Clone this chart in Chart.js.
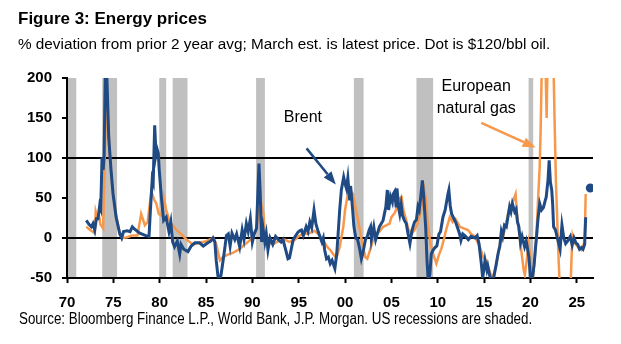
<!DOCTYPE html>
<html lang="en">
<head>
<meta charset="UTF-8">
<title>Energy prices</title>
<style>
  body { margin: 0; background: #fff; }
  .wrap { position: relative; width: 621px; height: 344px; font-family: Arial, "Liberation Sans", sans-serif; color: #000; }
  .title { position: absolute; left: 18px; top: 9.6px; font-size: 17px; line-height: 17px; font-weight: bold; white-space: nowrap; }
  .subtitle { position: absolute; left: 18px; top: 35.6px; font-size: 15.3px; line-height: 15px; white-space: nowrap; }
  /* condensed footnote */
  .source { position: absolute; left: 19px; top: 310.8px; font-size: 16px; line-height: 16px; white-space: nowrap;
            transform: scaleX(0.835); transform-origin: left top; }
  canvas { position: absolute; left: 0; top: 0; }
</style>
<script src="https://cdn.jsdelivr.net/npm/chart.js"></script>
</head>
<body>
<div class="wrap">
  <canvas id="energy" width="621" height="344"></canvas>
  <div class="title">Figure 3: Energy prices</div>
  <div class="subtitle">% deviation from prior 2 year avg; March est. is latest price. Dot is $120/bbl oil.</div>
  <div class="source">Source: Bloomberg Finance L.P., World Bank, J.P. Morgan. US recessions are shaded.</div>
</div>

<script>
// % deviation from prior 2 year average
const brentYears = [
  1972.08, 1972.37, 1972.63, 1972.8, 1972.99, 1973.17, 1973.35, 1973.53, 1973.64, 1973.78, 1973.9, 1974.0,
  1974.14, 1974.28, 1974.5, 1974.75, 1974.97, 1975.3, 1975.7, 1975.9, 1976.1, 1976.5, 1976.8, 1977.05,
  1977.3, 1977.85, 1978.5, 1978.85, 1979.0, 1979.2, 1979.3, 1979.46, 1979.6, 1979.7, 1979.85, 1979.95,
  1980.18, 1980.43, 1980.7, 1981.0, 1981.2, 1981.4, 1981.6, 1981.9, 1982.16, 1982.3, 1982.6, 1983.05,
  1983.4, 1983.8, 1984.3, 1984.7, 1985.2, 1985.5, 1985.75, 1985.95, 1986.1, 1986.3, 1986.5, 1986.76,
  1987.0, 1987.2, 1987.4, 1987.6, 1987.8, 1988.1, 1988.3, 1988.63, 1988.9, 1989.1, 1989.35, 1989.55,
  1989.78, 1990.0, 1990.2, 1990.45, 1990.71, 1990.85, 1991.0, 1991.15, 1991.35, 1991.5, 1991.68, 1991.9,
  1992.2, 1992.5, 1992.8, 1993.1, 1993.3, 1993.6, 1993.84, 1994.0, 1994.4, 1994.9, 1995.1, 1995.3,
  1995.5, 1995.8, 1996.0, 1996.2, 1996.4, 1996.65, 1996.85, 1997.1, 1997.5, 1997.65, 1997.8, 1998.0,
  1998.2, 1998.4, 1998.6, 1998.9, 1999.1, 1999.25, 1999.42, 1999.6, 1999.85, 2000.0, 2000.15, 2000.3,
  2000.5, 2000.6, 2000.8, 2000.95, 2001.15, 2001.35, 2001.55, 2001.76, 2001.9, 2002.2, 2002.4, 2002.6,
  2002.75, 2002.84, 2003.1, 2003.3, 2003.7, 2004.1, 2004.4, 2004.56, 2004.7, 2004.9, 2005.1, 2005.2,
  2005.35, 2005.5, 2005.6, 2005.8, 2005.9, 2006.05, 2006.2, 2006.4, 2006.6, 2006.8, 2007.0, 2007.2,
  2007.33, 2007.5, 2007.7, 2007.87, 2008.0, 2008.15, 2008.34, 2008.5, 2008.7, 2008.84, 2008.98, 2009.15,
  2009.3, 2009.5, 2009.7, 2009.9, 2010.13, 2010.3, 2010.56, 2010.8, 2011.1, 2011.2, 2011.35, 2011.5,
  2011.7, 2011.93, 2012.1, 2012.36, 2012.5, 2012.7, 2013.0, 2013.3, 2013.6, 2014.0, 2014.25, 2014.45,
  2014.7, 2014.85, 2015.1, 2015.3, 2015.4, 2015.6, 2015.8, 2016.0, 2016.3, 2016.5, 2016.7, 2016.86,
  2017.0, 2017.2, 2017.4, 2017.75, 2017.9, 2018.05, 2018.3, 2018.45, 2018.6, 2018.75, 2018.93, 2019.1,
  2019.37, 2019.55, 2019.84, 2020.0, 2020.2, 2020.4, 2020.55, 2020.63, 2020.8, 2021.0, 2021.2, 2021.4,
  2021.6, 2021.7, 2021.9, 2022.02, 2022.15, 2022.3, 2022.4, 2022.5, 2022.7, 2022.9, 2023.2, 2023.4,
  2023.6, 2023.8, 2024.0, 2024.3, 2024.5, 2024.7, 2024.9, 2025.1, 2025.3, 2025.5, 2025.67, 2025.85,
  2025.96
];
const brentValues = [
  22, 17, 14, 18, 10, 24, 24, 41, 37, 101, 85, 103,
  215, 210, 126, 85, 55, 26, 5, 0, 8, 9, 8, 14,
  11, 6, 3, 2, 35, 74, 70, 141, 105, 112, 106, 85,
  51, 22, 26, 8, 20, -5, -11, -4, -20, -8, -14, -17,
  -10, -6, -6, -10, -6, -4, 0, -5, -28, -49, -55, -35,
  -15, 3, 5, -10, 6, -2, 5, -11, 10, -2, 18, 8,
  24, -5, 5, 12, 93, 55, -5, 12, -5, 5, -15, 0,
  -8, 2, -2, -5, -2, -15, -26, -25, -2, 7, 9, 10,
  3, 14, 8, 20, 13, 35, 18, 8, -5, 0, -15, -26,
  -24, -32, -28, -38, -20, 5, 35, 60, 76, 68, 62, 75,
  47, 65, 38, 15, 0, -2, -12, -26, -20, -2, 2, 10,
  14, -2, 14, -2, 14, 22, 39, 60, 35, 52, 45, 55,
  58, 40, 62, 36, 30, 42, 28, 22, 18, 5, -7, 8,
  14, 20, 23, 39, 35, 50, 72, 50, 13, -28, -55, -45,
  -20, -15, -12, -10, 5, 8, 26, 35, 55, 60, 40, 30,
  25, 20, 14, 5, -3, 5, 2, -2, 2, 0, 3, -7,
  -32, -50, -28, -40, -35, -47, -52, -52, -33, -20, -10, 8,
  2, 16, 14, 39, 33, 43, 33, 36, 20, 14, -6, 2,
  -11, -4, -24, -50, -52, -33, -12, -2, 22, 43, 35, 38,
  47, 51, 73, 97, 70, 60, 42, 14, 10, 0, -14, 16,
  0, -7, -4, 2, -9, 0, -6, -8, -14, -12, -14, -8,
  26
];

const gasYears = [
  1972.08, 1972.5, 1973.0, 1973.1, 1973.3, 1973.5, 1973.6, 1973.9, 1974.05, 1974.25, 1974.45, 1974.7,
  1974.95, 1975.3, 1975.7, 1976.0, 1976.5, 1977.0, 1977.6, 1978.0, 1978.4, 1978.7, 1979.1, 1979.4,
  1979.64, 1979.9, 1980.18, 1980.43, 1980.7, 1981.1, 1981.4, 1981.8, 1982.4, 1983.0, 1983.6, 1984.3,
  1985.0, 1985.8, 1986.1, 1986.5, 1986.8, 1987.3, 1988.0, 1988.6, 1989.2, 1989.8, 1990.4, 1990.75,
  1991.0, 1991.2, 1991.35, 1991.7, 1992.2, 1992.8, 1993.5, 1994.0, 1994.5, 1995.0, 1995.5, 1996.0,
  1996.7, 1997.2, 1997.6, 1998.0, 1998.4, 1998.7, 1999.06, 1999.4, 1999.8, 2000.0, 2000.3, 2000.55,
  2000.85, 2001.1, 2001.4, 2001.6, 2001.9, 2002.2, 2002.4, 2002.7, 2003.0, 2003.3, 2003.7, 2004.1,
  2004.5, 2004.8, 2005.0, 2005.4, 2005.7, 2005.95, 2006.1, 2006.3, 2006.6, 2006.8, 2007.2, 2007.5,
  2007.87, 2008.2, 2008.56, 2008.7, 2008.9, 2009.2, 2009.5, 2009.85, 2010.1, 2010.4, 2010.7, 2010.9,
  2011.3, 2011.6, 2011.9, 2012.1, 2012.4, 2012.8, 2013.26, 2013.6, 2014.0, 2014.5, 2014.9, 2015.2,
  2015.7, 2016.0, 2016.3, 2016.7, 2017.06, 2017.4, 2017.75, 2018.0, 2018.4, 2018.55, 2018.8, 2019.1,
  2019.27, 2019.4, 2019.6, 2019.8, 2019.95, 2020.1, 2020.3, 2020.5, 2020.64, 2020.8, 2021.0, 2021.1,
  2021.2, 2021.4, 2021.6, 2021.75, 2021.9, 2022.1, 2022.3, 2022.45, 2022.6, 2022.75, 2022.9, 2023.05,
  2023.2, 2023.8, 2024.3, 2024.45, 2024.55, 2024.7, 2024.9, 2025.2, 2025.5, 2025.67, 2025.85, 2025.96
];
const gasValues = [
  14, 10, 6, 33, 24, 25, 17, 12, 85, 180, 140, 89,
  58, 28, 5, 0, 1, 3, 3, 30, 16, 20, 58, 48,
  43, 30, 28, 51, 35, 20, 16, 10, 4, -3, -8, -6,
  -4, 0, -8, -28, -24, -21, -18, -14, -8, -2, 10, 35,
  41, 30, 5, -3, -8, -4, -2, -5, -3, 2, 6, 5,
  9, 4, -2, -10, -15, -20, -25, -12, 13, 35, 55, 60,
  55, 40, 22, 10, -10, -24, -26, -15, -3, 4, 8, 14,
  16, 18, 26, 32, 44, 50, 51, 35, 22, 12, 5, 10,
  20, 35, 60, 50, 20, -7, -20, -32, -22, -13, 0, 10,
  26, 20, 24, 20, 14, 12, 10, 5, 2, -10, -24, -28,
  -45, -48, -35, -8, 2, 20, 39, 42, 55, 30, 5, -24,
  -40, -46, -28, -7, -20, -40, -45, -20, 1, 43, 89, 135,
  197, 280, 230, 150, 260, 330, 300, 240, 150, 70, 20, -30,
  -70, -75, -70, -20, 2, -5, -8, -12, -15, -10, -5, 55
];

// Brent at $120/bbl
const dotYear = [2026.46];
const dotValue = [62.5];

const yearTicks = [1970, 1975, 1980, 1985, 1990, 1995, 2000, 2005, 2010, 2015, 2020, 2025];

// US recessions
const recessionStart = [1970.05, 1973.8, 1979.95, 1981.4, 1990.4, 2000.95, 2007.7, 2019.8];
const recessionEnd   = [1971.0, 1975.4, 1980.7, 1983.0, 1991.35, 2002.0, 2009.5, 2020.3];

const BLUE = '#1f4a84';
const ORANGE = '#f7984b';

const toPoints = (xs, ys) => xs.map((x, i) => ({ x: x, y: ys[i] }));

const recessionShading = {
  id: 'recessionShading',
  beforeDraw(chart) {
    const { ctx, chartArea, scales: { x } } = chart;
    ctx.save();
    ctx.fillStyle = '#c0c0c0';
    recessionStart.forEach((s, i) => {
      const x0 = x.getPixelForValue(s);
      const x1 = x.getPixelForValue(recessionEnd[i]);
      ctx.fillRect(x0, chartArea.top, x1 - x0, chartArea.bottom - chartArea.top);
    });
    ctx.restore();
  }
};

// text labels with pointer arrows, placed in data units
const callouts = [
  { lines: ['Brent'], color: BLUE, at: [1995.45, 151], from: [1995.85, 112], to: [1999.0, 67] },
  { lines: ['European', 'natural gas'], color: ORANGE, at: [2014.15, 189], from: [2014.7, 144], to: [2020.56, 113] }
];

function drawArrow(ctx, x0, y0, x1, y1, color) {
  const ang = Math.atan2(y1 - y0, x1 - x0);
  const head = 13, half = 5;
  const bx = x1 - head * Math.cos(ang);
  const by = y1 - head * Math.sin(ang);
  ctx.strokeStyle = color;
  ctx.fillStyle = color;
  ctx.lineWidth = 2.5;
  ctx.beginPath();
  ctx.moveTo(x0, y0);
  ctx.lineTo(bx, by);
  ctx.stroke();
  ctx.beginPath();
  ctx.moveTo(x1, y1);
  ctx.lineTo(bx + half * Math.sin(ang), by - half * Math.cos(ang));
  ctx.lineTo(bx - half * Math.sin(ang), by + half * Math.cos(ang));
  ctx.closePath();
  ctx.fill();
}

const calloutPlugin = {
  id: 'callouts',
  afterDatasetsDraw(chart) {
    const { ctx, scales: { x, y } } = chart;
    ctx.save();
    ctx.font = '16px Arial, "Liberation Sans", sans-serif';
    ctx.textAlign = 'center';
    ctx.textBaseline = 'middle';
    callouts.forEach(c => {
      const cx = x.getPixelForValue(c.at[0]);
      const cy = y.getPixelForValue(c.at[1]);
      ctx.fillStyle = '#000';
      c.lines.forEach((t, i) => ctx.fillText(t, cx, cy + i * 21.6));
      drawArrow(ctx,
        x.getPixelForValue(c.from[0]), y.getPixelForValue(c.from[1]),
        x.getPixelForValue(c.to[0]), y.getPixelForValue(c.to[1]), c.color);
    });
    ctx.restore();
  }
};

const tickFont = { family: 'Arial, "Liberation Sans", sans-serif', size: 15, weight: 'bold' };

new Chart(document.getElementById('energy'), {
  type: 'line',
  data: {
    datasets: [
      {
        label: 'Brent',
        data: toPoints(brentYears, brentValues),
        borderColor: BLUE,
        borderWidth: 3,
        pointRadius: 0,
        tension: 0
      },
      {
        label: 'European natural gas',
        data: toPoints(gasYears, gasValues),
        borderColor: ORANGE,
        borderWidth: 2.5,
        pointRadius: 0,
        tension: 0
      },
      {
        label: '$120/bbl oil',
        data: toPoints(dotYear, dotValue),
        showLine: false,
        pointRadius: 4.5,
        pointBackgroundColor: BLUE,
        pointBorderWidth: 0
      }
    ]
  },
  options: {
    responsive: false,
    animation: false,
    layout: { padding: { top: 78, right: 28, left: 0, bottom: 0 } },
    plugins: {
      legend: { display: false },
      tooltip: { enabled: false }
    },
    scales: {
      x: {
        type: 'linear',
        min: 1970,
        max: 2026.75,
        afterFit: s => { s.height = 66; },
        afterBuildTicks: s => { s.ticks = yearTicks.map(v => ({ value: v })); },
        grid: { drawOnChartArea: false, tickLength: 5, tickColor: '#000', tickWidth: 2 },
        border: { color: '#000', width: 2 },
        ticks: {
          color: '#000',
          font: tickFont,
          padding: 11,
          maxRotation: 0,
          callback: v => String(v % 100).padStart(2, '0')
        }
      },
      y: {
        min: -50,
        max: 200,
        afterFit: s => { s.width = 67; },
        grid: {
          color: c => (c.tick && (c.tick.value === 0 || c.tick.value === 100)) ? '#000' : 'rgba(0,0,0,0)',
          lineWidth: 2,
          tickLength: 5,
          tickColor: '#000',
          tickWidth: 2
        },
        border: { color: '#000', width: 2 },
        ticks: { stepSize: 50, color: '#000', font: tickFont, padding: 10 }
      }
    }
  },
  plugins: [recessionShading, calloutPlugin]
});
</script>
</body>
</html>
